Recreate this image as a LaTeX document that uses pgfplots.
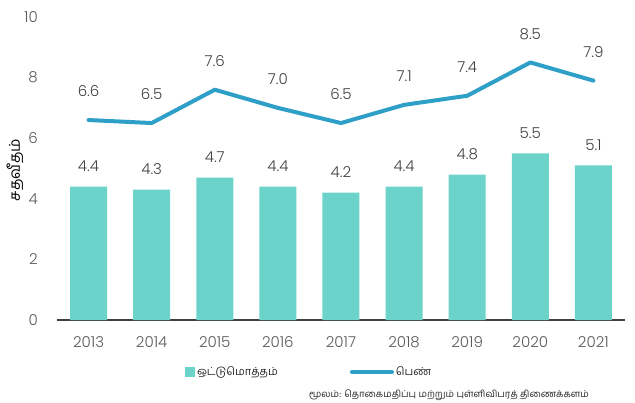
\documentclass[border=0pt]{standalone}
\usepackage{fontspec}
\setmainfont{Poppins}[UprightFont=* Light]
\newfontfamily\tamil[Script=Tamil]{Hind Madurai}
\usepackage{pgfplots}
\pgfplotsset{compat=1.18}
\definecolor{barc}{HTML}{6BD3CA}
\definecolor{linec}{HTML}{2E9FC7}
\definecolor{tickc}{HTML}{595959}
\definecolor{labc}{HTML}{404040}
\definecolor{axc}{HTML}{404040}

\begin{document}
\begin{tikzpicture}
\path[use as bounding box] (0,0) rectangle (635pt,402pt);
\begin{axis}[
  at={(57pt,82pt)}, anchor=south west,
  scale only axis, width=568pt, height=303pt,
  xmin=2012.5, xmax=2021.5, ymin=0, ymax=10,
  xtick={2013,...,2021}, ytick={0,2,...,10},
  /pgf/number format/assume math mode=true,
  x tick label style={/pgf/number format/1000 sep={}, anchor=north, inner sep=0pt, yshift=-16pt},
  y tick label style={anchor=east, inner sep=0pt, xshift=-19pt},
  ticklabel style={font=\fontsize{15}{15}\selectfont, text=tickc},
  major tick length=0pt,
  axis x line*=bottom, axis y line*=left,
  x axis line style={draw=axc, line width=2.5pt, -},
  y axis line style={draw=none},
  ylabel={\tamil சதவீதம்},
  ylabel style={at={(axis description cs:-0.074,0.495)}, anchor=center,
    font=\fontsize{15}{15}\selectfont, text=black},
  legend columns=2,
  legend style={at={(axis description cs:0.225,-0.172)}, anchor=west,
    draw=none, fill=none, inner sep=0pt, font=\tamil\fontsize{11}{11}\selectfont,
    text=black!85,
    /tikz/every even column/.append style={column sep=70pt}},
  nodes near coords style={font=\fontsize{15}{15}\selectfont, text=labc, inner sep=0pt, anchor=south},
]
\addplot[ybar, bar width=37pt, bar shift=0pt, fill=barc, draw=none,
  nodes near coords={\pgfmathprintnumber[fixed, fixed zerofill, precision=1]{\pgfplotspointmeta}},
  every node near coord/.append style={yshift=15pt},
  legend image code/.code={\fill[barc] (0pt,-5pt) rectangle (10pt,5pt);}]
  coordinates {(2013,4.4) (2014,4.3) (2015,4.7) (2016,4.4) (2017,4.2) (2018,4.4) (2019,4.8) (2020,5.5) (2021,5.1)};
\addlegendentry{ஒட்டுமொத்தம்}
\addplot[sharp plot, color=linec, line width=4pt, line join=round, line cap=round, mark=none,
  nodes near coords={\pgfmathprintnumber[fixed, fixed zerofill, precision=1]{\pgfplotspointmeta}},
  every node near coord/.append style={yshift=21pt},
  legend image code/.code={\draw[linec, line width=4pt, line cap=round] (0pt,0pt) -- (40pt,0pt);}]
  coordinates {(2013,6.6) (2014,6.5) (2015,7.6) (2016,7.0) (2017,6.5) (2018,7.1) (2019,7.4) (2020,8.5) (2021,7.9)};
\addlegendentry{பெண்}
\end{axis}
\node[font=\tamil\fontsize{9.5}{9.5}\selectfont, text=black!85] at (449pt,7pt) {மூலம்: தொகைமதிப்பு மற்றும் புள்ளிவிபரத் திணைக்களம்};
\end{tikzpicture}
\end{document}
